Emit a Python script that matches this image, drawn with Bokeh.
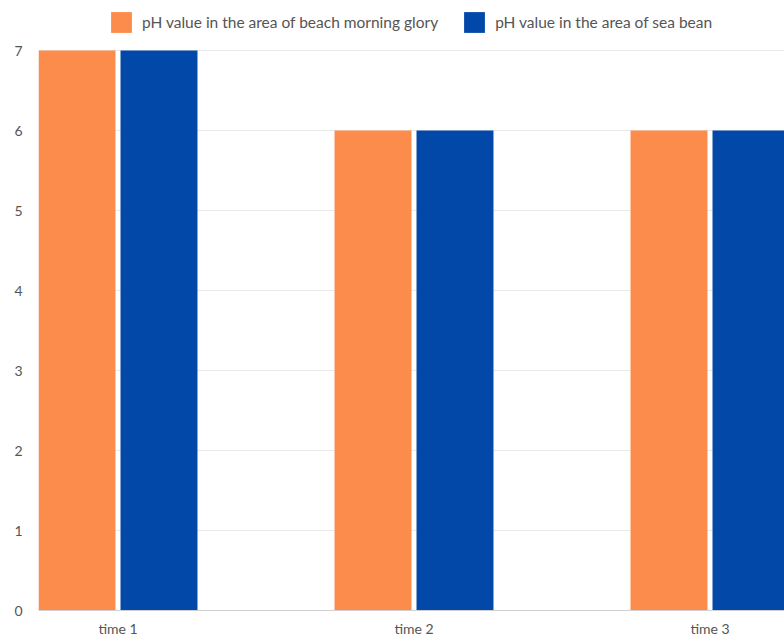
from bokeh.plotting import figure
from bokeh.models import ColumnDataSource, Range1d, FixedTicker, Legend, LegendItem
from bokeh.transform import dodge
from bokeh.embed import file_html
from bokeh.resources import INLINE

categories = ["time 1", "time 2", "time 3"]
morning_glory = [7, 6, 6]
sea_bean = [7, 6, 6]
series_names = ["pH value in the area of beach morning glory", "pH value in the area of sea bean"]
y_ticks = [0, 1, 2, 3, 4, 5, 6, 7]

source = ColumnDataSource(dict(
    x=list(range(len(categories))),
    a=morning_glory,
    b=sea_bean,
))

p = figure(width=784, height=639, output_backend="svg", toolbar_location=None,
           x_range=Range1d(-0.2686, 2.2517), y_range=Range1d(0, 7.625),
           min_border_left=38, min_border_right=0, min_border_top=0, min_border_bottom=29)
p.outline_line_color = None
p.background_fill_color = "white"

r1 = p.vbar(x=dodge("x", -0.1385, range=p.x_range), top="a", width=0.26, source=source,
            fill_color="#FB8C4B", line_color=None)
r2 = p.vbar(x=dodge("x", 0.1385, range=p.x_range), top="b", width=0.26, source=source,
            fill_color="#0248A8", line_color=None)

p.xaxis.ticker = FixedTicker(ticks=list(range(len(categories))))
p.xaxis.major_label_overrides = {i: c for i, c in enumerate(categories)}
p.xaxis.axis_line_color = "#d0d0d0"
p.xaxis.major_tick_line_color = None
p.xaxis.minor_tick_line_color = None
p.xaxis.major_tick_out = 0
p.xaxis.major_tick_in = 0
p.xaxis.minor_tick_out = 0
p.xaxis.axis_label_standoff = 0
p.xaxis.major_label_standoff = 9
p.xaxis.major_label_text_font = "Lato"
p.xaxis.major_label_text_font_size = "14px"
p.xaxis.major_label_text_color = "#555555"

p.yaxis.ticker = FixedTicker(ticks=y_ticks)
p.yaxis.axis_line_color = None
p.yaxis.major_tick_line_color = None
p.yaxis.minor_tick_line_color = None
p.yaxis.major_tick_out = 0
p.yaxis.major_tick_in = 0
p.yaxis.minor_tick_out = 0
p.yaxis.axis_label_standoff = 0
p.yaxis.major_label_standoff = 16
p.yaxis.major_label_text_font = "Lato"
p.yaxis.major_label_text_font_size = "14px"
p.yaxis.major_label_text_color = "#555555"

p.xgrid.grid_line_color = None
p.ygrid.grid_line_color = "#e8e8e8"
p.ygrid.ticker = FixedTicker(ticks=y_ticks[1:])

legend = Legend(items=[LegendItem(label=series_names[0], renderers=[r1]),
                       LegendItem(label=series_names[1], renderers=[r2])],
                orientation="horizontal", location=(70, 575),
                glyph_width=26, glyph_height=26, label_text_font="Lato",
                label_text_font_size="15.5px", label_text_color="#555555",
                spacing=23, padding=0, margin=0, border_line_color=None,
                background_fill_alpha=0, label_standoff=8)
p.add_layout(legend)

open("out.html", "w").write(file_html(p, INLINE))
